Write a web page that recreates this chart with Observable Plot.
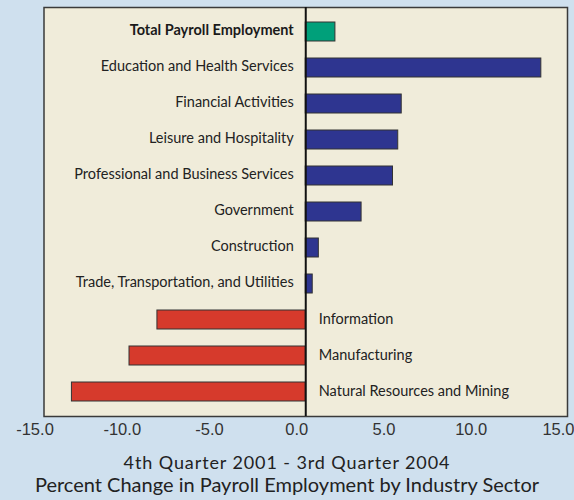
<!DOCTYPE html>
<html><head><meta charset="utf-8">
<script src="https://cdn.jsdelivr.net/npm/d3@7"></script>
<script src="https://cdn.jsdelivr.net/npm/@observablehq/plot@0.6"></script>
<style>
html,body{margin:0;padding:0;background:#cfe0ee;}
body{width:574px;height:500px;overflow:hidden;}
#chart svg{display:block;}
#cap{font-family:Lato, sans-serif;text-align:center;color:#222;width:574px;}
#cap .l1{font-size:18px;letter-spacing:0.9px;line-height:22px;margin-top:1px;}
#cap .l2{font-size:20px;letter-spacing:0px;line-height:23px;white-space:nowrap;}
</style></head><body>
<div id="chart"></div>
<div id="cap"><div class="l1">4th Quarter 2001 - 3rd Quarter 2004</div><div class="l2">Percent Change in Payroll Employment by Industry Sector</div></div>
<script>
const categories = [
  "Total Payroll Employment",
  "Education and Health Services",
  "Financial Activities",
  "Leisure and Hospitality",
  "Professional and Business Services",
  "Government",
  "Construction",
  "Trade, Transportation, and Utilities",
  "Information",
  "Manufacturing",
  "Natural Resources and Mining"
];
const values = [1.7, 13.5, 5.5, 5.3, 5.0, 3.2, 0.75, 0.4, -8.5, -10.1, -13.4];
const kinds = ["total", "gain", "gain", "gain", "gain", "gain", "gain", "gain", "loss", "loss", "loss"];
const xTicks = [-15, -10, -5, 0, 5, 10, 15];

const data = categories.map((c, i) => ({category: c, value: values[i], kind: kinds[i]}));

const chart = Plot.plot({
  width: 574,
  height: 450,
  marginLeft: 43.5,
  marginRight: 7,
  marginTop: 7,
  marginBottom: 34,
  style: {background: "transparent", overflow: "visible"},
  x: {domain: [-15, 15], label: null},
  y: {domain: categories, axis: null, insetTop: 4, insetBottom: 4.5, paddingInner: 0.48, paddingOuter: 0.24},
  color: {domain: ["total", "gain", "loss"], range: ["#00a07a", "#2e3590", "#d63a2c"]},
  marks: [
    Plot.frame({fill: "#f0ecda", stroke: "#3a3a3a", strokeWidth: 1.5}),
    Plot.barX(data, {x: "value", y: "category", fill: "kind", stroke: "#333", strokeWidth: 1}),
    Plot.ruleX([0], {stroke: "#111", strokeWidth: 2}),
    Plot.text(data, {filter: d => d.kind === "total", x: 0, y: "category", text: "category", textAnchor: "end", dx: -12, dy: -1.5, fontSize: 14.5, fontWeight: "bold", fontFamily: "Lato", fill: "#1a1a1a"}),
    Plot.text(data, {filter: d => d.kind === "gain", x: 0, y: "category", text: "category", textAnchor: "end", dx: -12, dy: -1.5, fontSize: 14.5, fontFamily: "Lato", fill: "#222"}),
    Plot.text(data, {filter: d => d.kind === "loss", x: 0, y: "category", text: "category", textAnchor: "start", dx: 13, dy: -1, fontSize: 14.5, fontFamily: "Lato", fill: "#222"}),
    Plot.axisX({ticks: xTicks, tickFormat: d => d.toFixed(1), tickSize: 0, tickPadding: 7, fontSize: 16.5, dx: -9, fontFamily: "Liberation Sans", fill: "#333", label: null})
  ]
});
document.getElementById("chart").appendChild(chart);
</script>
</body></html>
